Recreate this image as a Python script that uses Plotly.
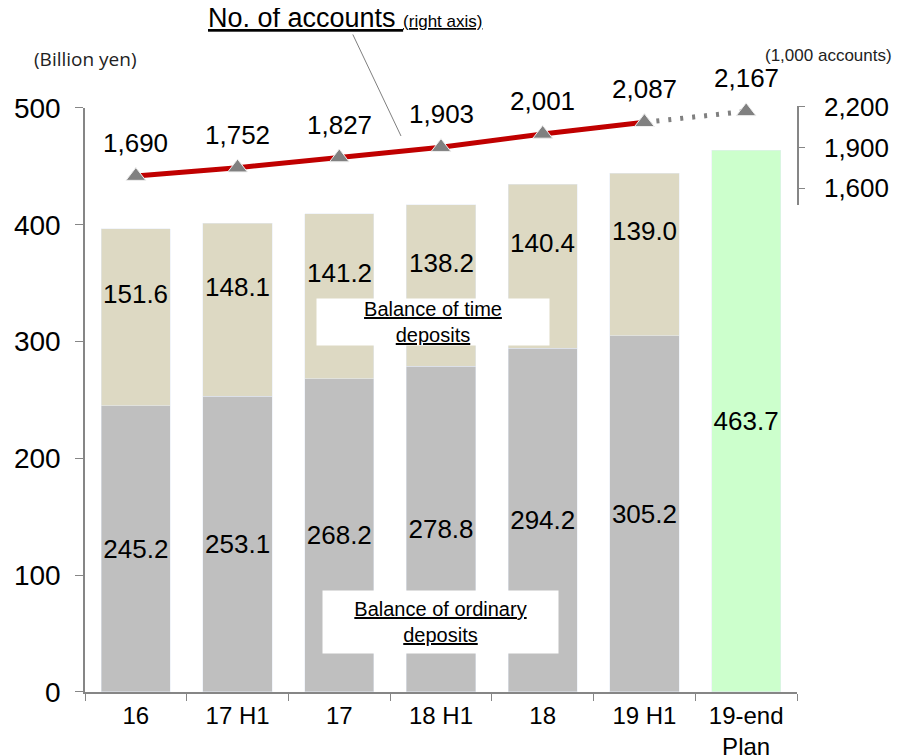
import plotly.graph_objects as go

# Categories and values
categories = ['16', '17 H1', '17', '18 H1', '18', '19 H1', '19-end<br>Plan']
ordinary = [245.2, 253.1, 268.2, 278.8, 294.2, 305.2]
time_dep = [151.6, 148.1, 141.2, 138.2, 140.4, 139.0]
plan_total = [463.7]
accounts = [1690, 1752, 1827, 1903, 2001, 2087]
accounts_plan = [2167]

FONT = 'Liberation Sans, Arial, sans-serif'
GRAY_AXIS = '#868686'

fig = go.Figure()

# Stacked bars (billion yen, left axis)
fig.add_trace(go.Bar(
    x=categories[:6], y=ordinary, name='Balance of ordinary deposits',
    marker=dict(color='#BFBFBF'),
    text=[f'{v:.1f}' for v in ordinary], textposition='inside',
    insidetextanchor='middle', constraintext='none', textangle=0,
    textfont=dict(size=26, color='black', family=FONT),
))
fig.add_trace(go.Bar(
    x=categories[:6], y=time_dep, name='Balance of time deposits',
    marker=dict(color='#DDD9C3'),
))
fig.add_trace(go.Bar(
    x=categories[6:], y=plan_total, name='19-end Plan',
    marker=dict(color='#CCFFCC'),
    text=[f'{v:.1f}' for v in plan_total], textposition='inside',
    insidetextanchor='middle', constraintext='none', textangle=0,
    textfont=dict(size=26, color='black', family=FONT),
))

# Number of accounts (thousand, right axis)
fig.add_trace(go.Scatter(
    x=categories[5:7], y=[accounts[-1], accounts_plan[0]], yaxis='y2',
    mode='lines+markers',
    line=dict(color='#808080', width=5, dash='3px,9px'),
    marker=dict(symbol='triangle-up', size=17, color='#808080',
                line=dict(color='#EEEEEE', width=1)),
    cliponaxis=False,
))
fig.add_trace(go.Scatter(
    x=categories[:6], y=accounts, yaxis='y2',
    mode='lines+markers',
    line=dict(color='#C00000', width=5),
    marker=dict(symbol='triangle-up', size=17, color='#808080',
                line=dict(color='#EEEEEE', width=1)),
    cliponaxis=False,
))

annotations = []
# time deposit labels, sitting a little above the segment centre
for i, (o, t) in enumerate(zip(ordinary, time_dep)):
    annotations.append(dict(x=i, y=o + t / 2, xref='x', yref='y', text=f'{t:.1f}',
                            showarrow=False, yshift=23, yanchor='middle',
                            font=dict(size=26, color='black', family=FONT)))
# account labels above markers
for i, v in enumerate(accounts + accounts_plan):
    annotations.append(dict(x=i, y=v, xref='x', yref='y2', text=f'{v:,}',
                            showarrow=False, yshift=33, yanchor='middle',
                            font=dict(size=26, color='black', family=FONT)))

# text boxes and titles
annotations += [
    dict(x=0.4888, y=0.6146, xref='paper', yref='paper', showarrow=False,
         xanchor='center', yanchor='middle',
         text='<u>Balance of time</u><br><u>deposits</u>',
         width=232, height=46, bgcolor='white', borderpad=0,
         font=dict(size=20, color='black', family=FONT)),
    dict(x=0.4986, y=0.1163, xref='paper', yref='paper', showarrow=False,
         xanchor='center', yanchor='middle',
         text='<u>Balance of ordinary</u><br><u>deposits</u>',
         width=235, height=62, bgcolor='white', borderpad=0,
         font=dict(size=20, color='black', family=FONT)),
    dict(x=0.4438, y=0.9236, xref='paper', yref='paper',
         text="<u>No. of accounts <span style='font-size:17px'>(right axis)</span></u>",
         showarrow=True, arrowhead=0, arrowwidth=1, arrowcolor='#7F7F7F',
         ax=-56, ay=-118, font=dict(size=27, color='black', family=FONT)),
    dict(x=0.0014, y=1.052, xref='paper', yref='paper', showarrow=False,
         xanchor='center', yanchor='middle',
         text='(Billion yen)', font=dict(size=19, color='#222222', family='Open Sans')),
    dict(x=1.0449, y=1.058, xref='paper', yref='paper', showarrow=False,
         xanchor='center', yanchor='middle',
         text='(1,000 accounts)', font=dict(size=17, color='#222222', family=FONT)),
]

fig.update_layout(
    width=893, height=748,
    margin=dict(l=77, r=104, t=82, b=64, autoexpand=False),
    barmode='stack', bargap=0.32,
    showlegend=False,
    plot_bgcolor='rgba(0,0,0,0)', paper_bgcolor='white',
    font=dict(family=FONT, color='black'),
    xaxis=dict(
        type='category', categoryorder='array', categoryarray=categories,
        range=[-0.5, len(categories) - 0.5], tickangle=0, automargin=False,
        tickson='boundaries', ticks='outside', ticklen=7, tickcolor=GRAY_AXIS,
        showline=True, linecolor=GRAY_AXIS, linewidth=1.5, ticklabelstandoff=1,
        tickfont=dict(size=24, color='black'), showgrid=False,
    ),
    yaxis=dict(
        domain=[0, 0.9701], range=[0, 500], tickvals=[0, 100, 200, 300, 400, 500],
        ticks='outside', ticklen=8, tickcolor=GRAY_AXIS, automargin=False,
        showline=True, linecolor=GRAY_AXIS, linewidth=1.5,
        tickfont=dict(size=28, color='black'), ticklabelstandoff=9,
        showgrid=False, zeroline=False,
    ),
    yaxis2=dict(
        domain=[0.809, 0.973], range=[1477, 2205], anchor='x', side='right',
        tickvals=[1600, 1900, 2200], tickformat=',', automargin=False,
        ticks='outside', ticklen=6, tickcolor=GRAY_AXIS,
        showline=True, linecolor=GRAY_AXIS, linewidth=1.5,
        tickfont=dict(size=26, color='black'), ticklabelstandoff=14,
        showgrid=False, zeroline=False,
    ),
    annotations=annotations,
)

fig.write_html('out.html')
